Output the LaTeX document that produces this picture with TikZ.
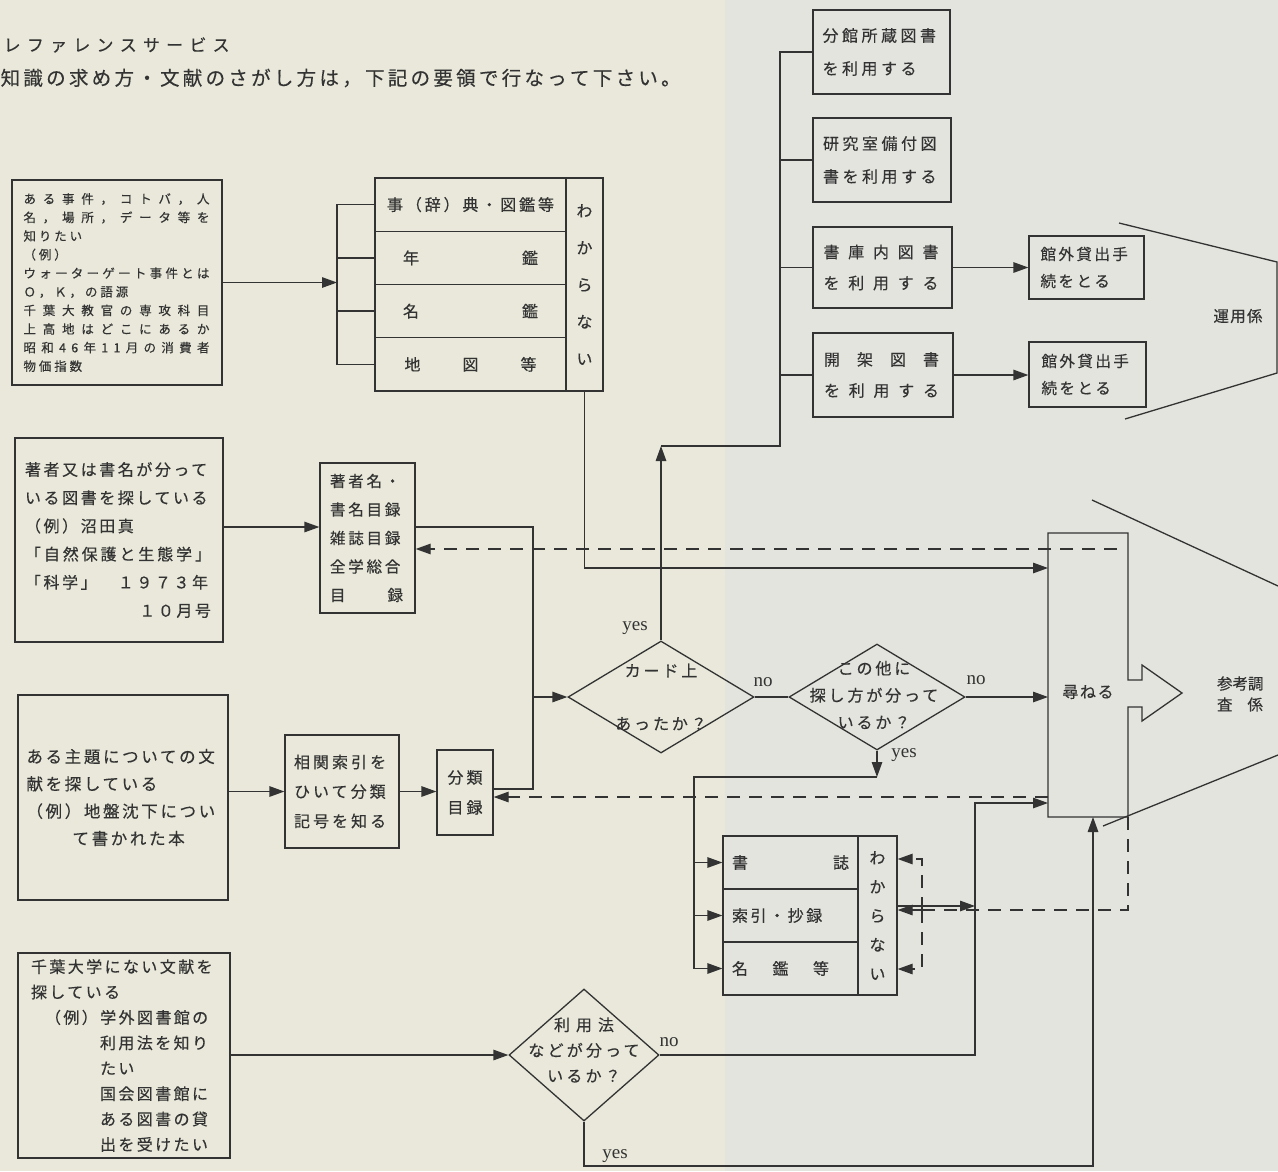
\documentclass[tikz,border=0pt]{standalone}
\usepackage{fontspec}
\usetikzlibrary{arrows.meta,shapes.geometric}
\newfontfamily\jp[FakeBold=0.35]{Noto Sans CJK JP}
\newfontfamily\lat{Liberation Serif}
\definecolor{ink}{HTML}{333333}
\definecolor{paperL}{HTML}{E9E8DB}
\definecolor{paperR}{HTML}{E3E4DD}
\newcommand\jpf[3]{\jp\fontsize{#1}{#2}\selectfont\addfontfeature{LetterSpace=#3}}
\makeatletter
\def\spcEnd{\spcEnd}
\def\spreadchars#1{\spc@a#1\spcEnd}
\def\spc@a#1{\ifx#1\spcEnd\else#1\expandafter\spc@b\fi}
\def\spc@b#1{\ifx#1\spcEnd\else\hfill#1\expandafter\spc@b\fi}
\makeatother
\newcommand\fl[2]{\makebox[#1]{\spreadchars{#2}}}
\tikzset{
  bx/.style={draw=ink, line width=1.3pt, inner sep=0pt, text=ink},
  dm/.style={draw=ink, line width=1.3pt, diamond, inner sep=0pt},
  arr/.style={-{Triangle[length=15pt,width=10.5pt]}},
  dsh/.style={dash pattern=on 13pt off 9pt},
  lbl/.style={inner sep=0pt, font=\lat\fontsize{19}{19}\selectfont},
  txt/.style={inner sep=0pt},
}
\begin{document}
\begin{tikzpicture}[x=1pt,y=-1pt,color=ink,line width=1.3pt]
\fill[paperL] (0,0) rectangle (1278,1171);
\fill[paperR] (725,0) rectangle (1278,1171);
\useasboundingbox (0,0) rectangle (1278,1171);

% titles
\node[txt, anchor=west, font=\jpf{17}{20}{0}] (t1) at (3,45) {\fl{226pt}{レファレンスサービス}};
\node[txt, anchor=west, font=\jpf{19.5}{22}{0}] (t2) at (0,78) {\fl{680pt}{知識の求め方・文献のさがし方は，下記の要領で行なって下さい。}};

% left boxes
\node[bx, minimum width=210pt, minimum height=205pt, text width=187pt, align=left, font=\jpf{12.5}{18.6}{23}] (A) at (117,282.5)
 {\fl{186pt}{ある事件，コトバ，人}\\\fl{186pt}{名，場所，データ等を}\\知りたい\\（例）\\\fl{186pt}{ウォーターゲート事件とは}\\Ｏ，Ｋ，の語源\\\fl{186pt}{千葉大教官の専攻科目}\\\fl{186pt}{上高地はどこにあるか}\\\fl{186pt}{昭和46年11月の消費者}\\物価指数};
\node[bx, minimum width=208pt, minimum height=204pt, text width=188pt, align=left, font=\jpf{16}{28.2}{16}] (B) at (119,540)
 {著者又は書名が分って\\いる図書を探している\\（例）沼田真\\\fl{186pt}{「自然保護と生態学」}\\「科学」　１９７３年\\\makebox[186pt][r]{１０月号}};
\node[bx, minimum width=210pt, minimum height=205pt, text width=193pt, align=left, font=\jpf{16.5}{27.3}{16}] (C) at (123,797.5)
 {ある主題についての文\\献を探している\\（例）地盤沈下につい\\\hspace*{46pt}て書かれた本};
\node[bx, minimum width=212pt, minimum height=205pt, text width=186pt, align=left, font=\jpf{16}{25.4}{15}] (F) at (124,1055.5)
 {千葉大学にない文献を\\探している\\\hspace*{14pt}（例）学外図書館の\\\hspace*{69pt}利用法を知り\\\hspace*{69pt}たい\\\hspace*{69pt}国会図書館に\\\hspace*{69pt}ある図書の貸\\\hspace*{69pt}出を受けたい};

% catalogue boxes
\node[bx, minimum width=95pt, minimum height=150pt, text width=75pt, align=left, font=\jpf{15.5}{28.5}{18}] (AU) at (367.5,538)
 {著者名・\\書名目録\\雑誌目録\\全学総合\\\fl{73pt}{目録}};
\node[bx, minimum width=114pt, minimum height=113pt, text width=96pt, align=left, font=\jpf{16}{29.5}{19}] (I) at (342,791.5)
 {相関索引を\\ひいて分類\\記号を知る};
\node[bx, minimum width=56pt, minimum height=85pt, text width=40pt, align=center, font=\jpf{16}{30}{19}] (CL) at (465,792.5)
 {分類\\目録};

% dictionary compound box
\node[bx, minimum width=191pt, minimum height=53.25pt, font=\jpf{16}{20}{18}] (D1) at (470.5,204.625) {事（辞）典・図鑑等};
\node[bx, minimum width=191pt, minimum height=53.25pt, font=\jpf{16}{20}{0}] (D2) at (470.5,257.875) {\makebox[135pt]{年\hfill 鑑}};
\node[bx, minimum width=191pt, minimum height=53.25pt, font=\jpf{16}{20}{0}] (D3) at (470.5,311.125) {\makebox[135pt]{名\hfill 鑑}};
\node[bx, minimum width=191pt, minimum height=53.25pt, font=\jpf{16}{20}{0}] (D4) at (470.5,364.375) {\makebox[132pt]{地\hfill 図\hfill 等}};
\node[bx, minimum width=37pt, minimum height=213pt, text width=20pt, align=center, font=\jpf{16}{37}{0}] (Dc) at (584.5,284.5) {わ\\か\\ら\\な\\い};

% top right boxes
\node[bx, minimum width=137pt, minimum height=84pt, text width=118pt, align=left, font=\jpf{16}{33}{22}] (G1) at (881.5,52) {分館所蔵図書\\を利用する};
\node[bx, minimum width=138pt, minimum height=84pt, text width=118pt, align=left, font=\jpf{16}{33}{22}] (G2) at (882,160) {研究室備付図\\書を利用する};
\node[bx, minimum width=139pt, minimum height=81pt, text width=118pt, align=left, font=\jpf{16}{31}{0}] (G3) at (882.5,267.5) {\fl{115pt}{書庫内図書}\\\fl{115pt}{を利用する}};
\node[bx, minimum width=140pt, minimum height=84pt, text width=118pt, align=left, font=\jpf{16}{31}{0}] (G4) at (883,375) {\fl{115pt}{開架図書}\\\fl{115pt}{を利用する}};
\node[bx, minimum width=115pt, minimum height=63pt, text width=92pt, align=left, font=\jpf{15.5}{27}{16}] (H1) at (1086.5,267.5) {館外貸出手\\続をとる};
\node[bx, minimum width=117pt, minimum height=65pt, text width=92pt, align=left, font=\jpf{15.5}{27}{16}] (H2) at (1087.5,374.5) {館外貸出手\\続をとる};

% staff brackets
\draw (1119,223) -- (1277,262) -- (1277,373) -- (1125,419);
\node[txt, font=\jpf{15.5}{20}{8}] (unyo) at (1238,316) {運用係};
\draw (1092,500) -- (1278,586);
\draw (1103,826) -- (1278,755);
\node[txt, text width=48pt, align=left, font=\jpf{15.5}{21}{0}] (sanko) at (1241,694) {参考調\\\makebox[46pt]{査\hfill 係}};

% ask box with block arrow
\node[inner sep=0pt, outer sep=0pt, minimum width=80pt, minimum height=284pt] (ask) at (1088,675) {};
\draw (ask.south west) -- (ask.north west) -- (ask.north east) -- (1128,680) -- (1142,680) -- (1142,665) -- (1182,693) -- (1142,721) -- (1142,707) -- (1128,707) -- (ask.south east) -- cycle;
\node[txt, font=\jpf{16}{20}{10}] (askt) at (1088,692) {尋ねる};

% diamonds
\node[dm, minimum width=186pt, minimum height=112pt] (d1) at (661,697) {};
\node[txt, text width=110pt, align=center, font=\jpf{16}{53}{18}] (d1t) at (661,697) {カード上\\あったか？};
\node[dm, minimum width=176pt, minimum height=106pt] (d2) at (877,697) {};
\node[txt, text width=150pt, align=center, font=\jpf{16}{27}{18}] (d2t) at (874,695) {この他に\\探し方が分って\\いるか？};
\node[dm, minimum width=150pt, minimum height=132pt] (d3) at (584,1055) {};
\node[txt, text width=130pt, align=center, font=\jpf{16}{25.5}{20}] (d3t) at (584,1050) {\fl{60pt}{利用法}\\などが分って\\いるか？};

% reference tools box
\node[bx, minimum width=135pt, minimum height=53pt, font=\jpf{16}{20}{0}] (E1) at (790.5,862.5) {\makebox[117pt]{書\hfill 誌}};
\node[bx, minimum width=135pt, minimum height=53pt, font=\jpf{16}{20}{16}] (E2) at (790.5,915.5) {\makebox[117pt][l]{索引・抄録}};
\node[bx, minimum width=135pt, minimum height=53pt, font=\jpf{16}{20}{0}] (E3) at (790.5,968.5) {\makebox[117pt][l]{\makebox[97pt]{名\hfill 鑑\hfill 等}}};
\node[bx, minimum width=39pt, minimum height=159pt, text width=20pt, align=center, font=\jpf{16}{29}{0}] (Ec) at (877.5,915.5) {わ\\か\\ら\\な\\い};

% labels
\node[lbl] (y1) at (635,628) {yes};
\node[lbl] (n1) at (763,682) {no};
\node[lbl] (n2) at (976,680) {no};
\node[lbl] (y2) at (904,755) {yes};
\node[lbl] (n3) at (669,1042) {no};
\node[lbl] (y3) at (615,1156) {yes};

% junction coordinates
\coordinate (Dbr) at (337,282.5);
\coordinate (Gbr) at (780,446);
\coordinate (J1) at (533,697);
\coordinate (J2) at (694,777);
\coordinate (J3) at (975,803);
\coordinate (J4) at (1093,1166);
\coordinate (J5) at (922,910);
\coordinate (askd) at (1117,549);

% connectors
\draw[arr] (A.east) -- (Dbr);
\draw (D1.west) -- (D1.west -| Dbr) -- (D4.west -| Dbr) -- (D4.west);
\draw (D2.west) -- (D2.west -| Dbr);
\draw (D3.west) -- (D3.west -| Dbr);
\draw[arr] (Dc.south) -- (Dc.south |- 0,568) -- (ask.west |- 0,568);

\draw[arr] (B.east |- 0,527) -- (AU.west |- 0,527);
\draw[dsh,arr] (askd) -- (AU.east |- askd);
\draw (AU.east |- 0,527) -- (J1 |- 0,527) -- (J1 |- 0,789) -- (CL.east |- 0,789);
\draw[arr] (J1) -- (d1.west);
\draw[arr] (C.east |- I.west) -- (I.west);
\draw[arr] (I.east) -- (CL.west |- I.east);
\draw[dsh,arr] (ask.west |- 0,797) -- (CL.east |- 0,797);

\draw[arr] (d1.north) -- (d1.north |- Gbr);
\draw (d1.north |- Gbr) -- (Gbr) -- (Gbr |- G1.west) -- (G1.west);
\draw (G2.west) -- (G2.west -| Gbr);
\draw (G3.west) -- (G3.west -| Gbr);
\draw (G4.west) -- (G4.west -| Gbr);
\draw[arr] (G3.east) -- (H1.west |- G3.east);
\draw[arr] (G4.east) -- (H2.west |- G4.east);

\draw (d1.east) -- (d2.west);
\draw[arr] (d2.east) -- (ask.west |- d2.east);
\draw[arr] (d2.south) -- (d2.south |- J2);
\draw (d2.south |- J2) -- (J2) -- (J2 |- E3.west);
\draw[arr] (J2 |- E1.west) -- (E1.west);
\draw[arr] (J2 |- E2.west) -- (E2.west);
\draw[arr] (J2 |- E3.west) -- (E3.west);

\draw[arr] (d3.east) -- (J3 |- d3.east) -- (J3) -- (ask.west |- J3);
\draw[arr] (Ec.east |- 0,906) -- (J3 |- 0,906);
\draw[arr] (F.east |- d3.west) -- (d3.west);
\draw[arr] (d3.south) -- (d3.south |- J4) -- (J4) -- (J4 |- ask.south);

\draw[dsh] (ask.south east) -- (ask.south east |- J5) -- (J5);
\draw[dsh,arr] (J5) -- (Ec.east |- J5);
\draw[dsh,arr] (J5) -- (J5 |- 0,859) -- (Ec.east |- 0,859);
\draw[dsh,arr] (J5) -- (J5 |- 0,969) -- (Ec.east |- 0,969);
\end{tikzpicture}
\end{document}
